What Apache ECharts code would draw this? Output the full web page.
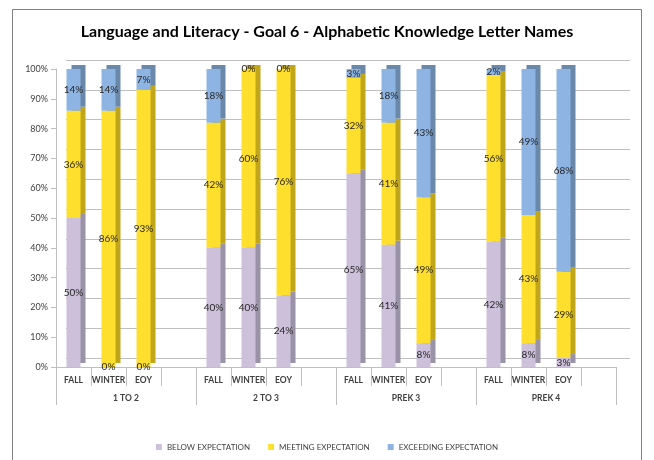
<!DOCTYPE html>
<html>
<head>
<meta charset="utf-8">
<script src="https://cdn.jsdelivr.net/npm/echarts@6/dist/echarts.min.js"></script>
<style>
  html, body { margin: 0; padding: 0; background: #fff; }
  #main { width: 654px; height: 460px; }
</style>
</head>
<body>
<div id="main"></div>
<script>
// 数据
var groups = ['1 TO 2', '2 TO 3', 'PREK 3', 'PREK 4'];
var slots = ['FALL', 'WINTER', 'EOY', ''];
var seriesNames = ['BELOW EXPECTATION', 'MEETING EXPECTATION', 'EXCEEDING EXPECTATION'];
var below     = [50, 0, 0, null, 40, 40, 24, null, 65, 41, 8, null, 42, 8, 3, null];
var meeting   = [36, 86, 93, null, 42, 60, 76, null, 32, 41, 49, null, 56, 43, 29, null];
var exceeding = [14, 14, 7, null, 18, 0, 0, null, 3, 18, 43, null, 2, 49, 68, null];
var yTicks = [0, 10, 20, 30, 40, 50, 60, 70, 80, 90, 100];

(function () {
  var myChart = echarts.init(document.getElementById('main'));

  var categories = [];
  groups.forEach(function () {
    slots.forEach(function (s) { categories.push(s); });
  });

  var colors = ['#CCC0DA', '#FFDF2E', '#8DB4E2'];
  var sideColors = ['#9A92A6', '#C2A61A', '#6A88AA'];
  var data = [below, meeting, exceeding];

  var series = seriesNames.map(function (name, i) {
    return {
      name: name,
      type: 'bar',
      stack: 'total',
      xAxisIndex: 1,
      yAxisIndex: 1,
      barWidth: 14,
      itemStyle: {
        color: colors[i],
        shadowColor: sideColors[i],
        shadowBlur: 0,
        shadowOffsetX: 5,
        shadowOffsetY: -4
      },
      label: {
        show: true,
        position: 'inside',
        color: '#262626',
        fontFamily: 'Lato',
        fontSize: 10,
        formatter: function (p) { return p.value + '%'; }
      },
      data: data[i]
    };
  });

  var option = {
    animation: false,
    title: {
      text: 'Language and Literacy - Goal 6 - Alphabetic Knowledge Letter Names',
      left: 'center',
      top: 19,
      textStyle: { fontFamily: 'Lato', fontWeight: 'bold', fontSize: 16, color: '#000' }
    },
    legend: {
      bottom: 4,
      left: 'center',
      itemWidth: 6,
      itemHeight: 6,
      itemGap: 18,
      icon: 'rect',
      textStyle: { fontFamily: 'Lato', fontSize: 8, color: '#404040' },
      data: seriesNames
    },
    graphic: [{
      type: 'rect',
      shape: { x: 12.5, y: 9.5, width: 629, height: 470 },
      style: { fill: 'none', stroke: '#7f7f7f', lineWidth: 1 }
    }],
    grid: [
      // back wall
      { left: 66, right: 24, top: 60, bottom: 102 },
      // front
      { left: 56, right: 38, top: 69, bottom: 93 }
    ],
    xAxis: [
      {
        gridIndex: 0, type: 'category', data: categories, show: false
      },
      {
        gridIndex: 1, type: 'category', data: categories,
        axisLine: { show: true, lineStyle: { color: '#bfbfbf' } },
        axisTick: { show: true, interval: 0, length: 19, lineStyle: { color: '#bfbfbf' } },
        axisLabel: { interval: 0, fontFamily: 'Lato', fontSize: 8.5, fontWeight: 'bold', color: '#404040', margin: 9 }
      },
      {
        gridIndex: 1, type: 'category', data: groups, position: 'bottom',
        axisLine: { show: false },
        axisTick: { show: true, interval: 0, length: 38, lineStyle: { color: '#bfbfbf' } },
        axisLabel: { interval: 0, fontFamily: 'Lato', fontSize: 8.5, fontWeight: 'bold', color: '#404040', margin: 27 }
      }
    ],
    yAxis: [
      {
        gridIndex: 0, type: 'value', min: 0, max: 100, interval: 10,
        axisLabel: { show: false }, axisLine: { show: false }, axisTick: { show: false },
        splitLine: { show: true, lineStyle: { color: '#bfbfbf' } }
      },
      {
        gridIndex: 1, type: 'value', min: 0, max: 100, interval: 10,
        axisLine: { show: true, lineStyle: { color: '#bfbfbf' } },
        axisTick: { show: true, lineStyle: { color: '#bfbfbf' } },
        splitLine: { show: false },
        axisLabel: {
          fontFamily: 'Lato', fontSize: 9, color: '#404040', margin: 8,
          formatter: function (v) { return yTicks.indexOf(v) >= 0 ? v + '%' : ''; }
        }
      }
    ],
    series: series
  };

  myChart.setOption(option);
  window.addEventListener('resize', myChart.resize);
})();
</script>
</body>
</html>
